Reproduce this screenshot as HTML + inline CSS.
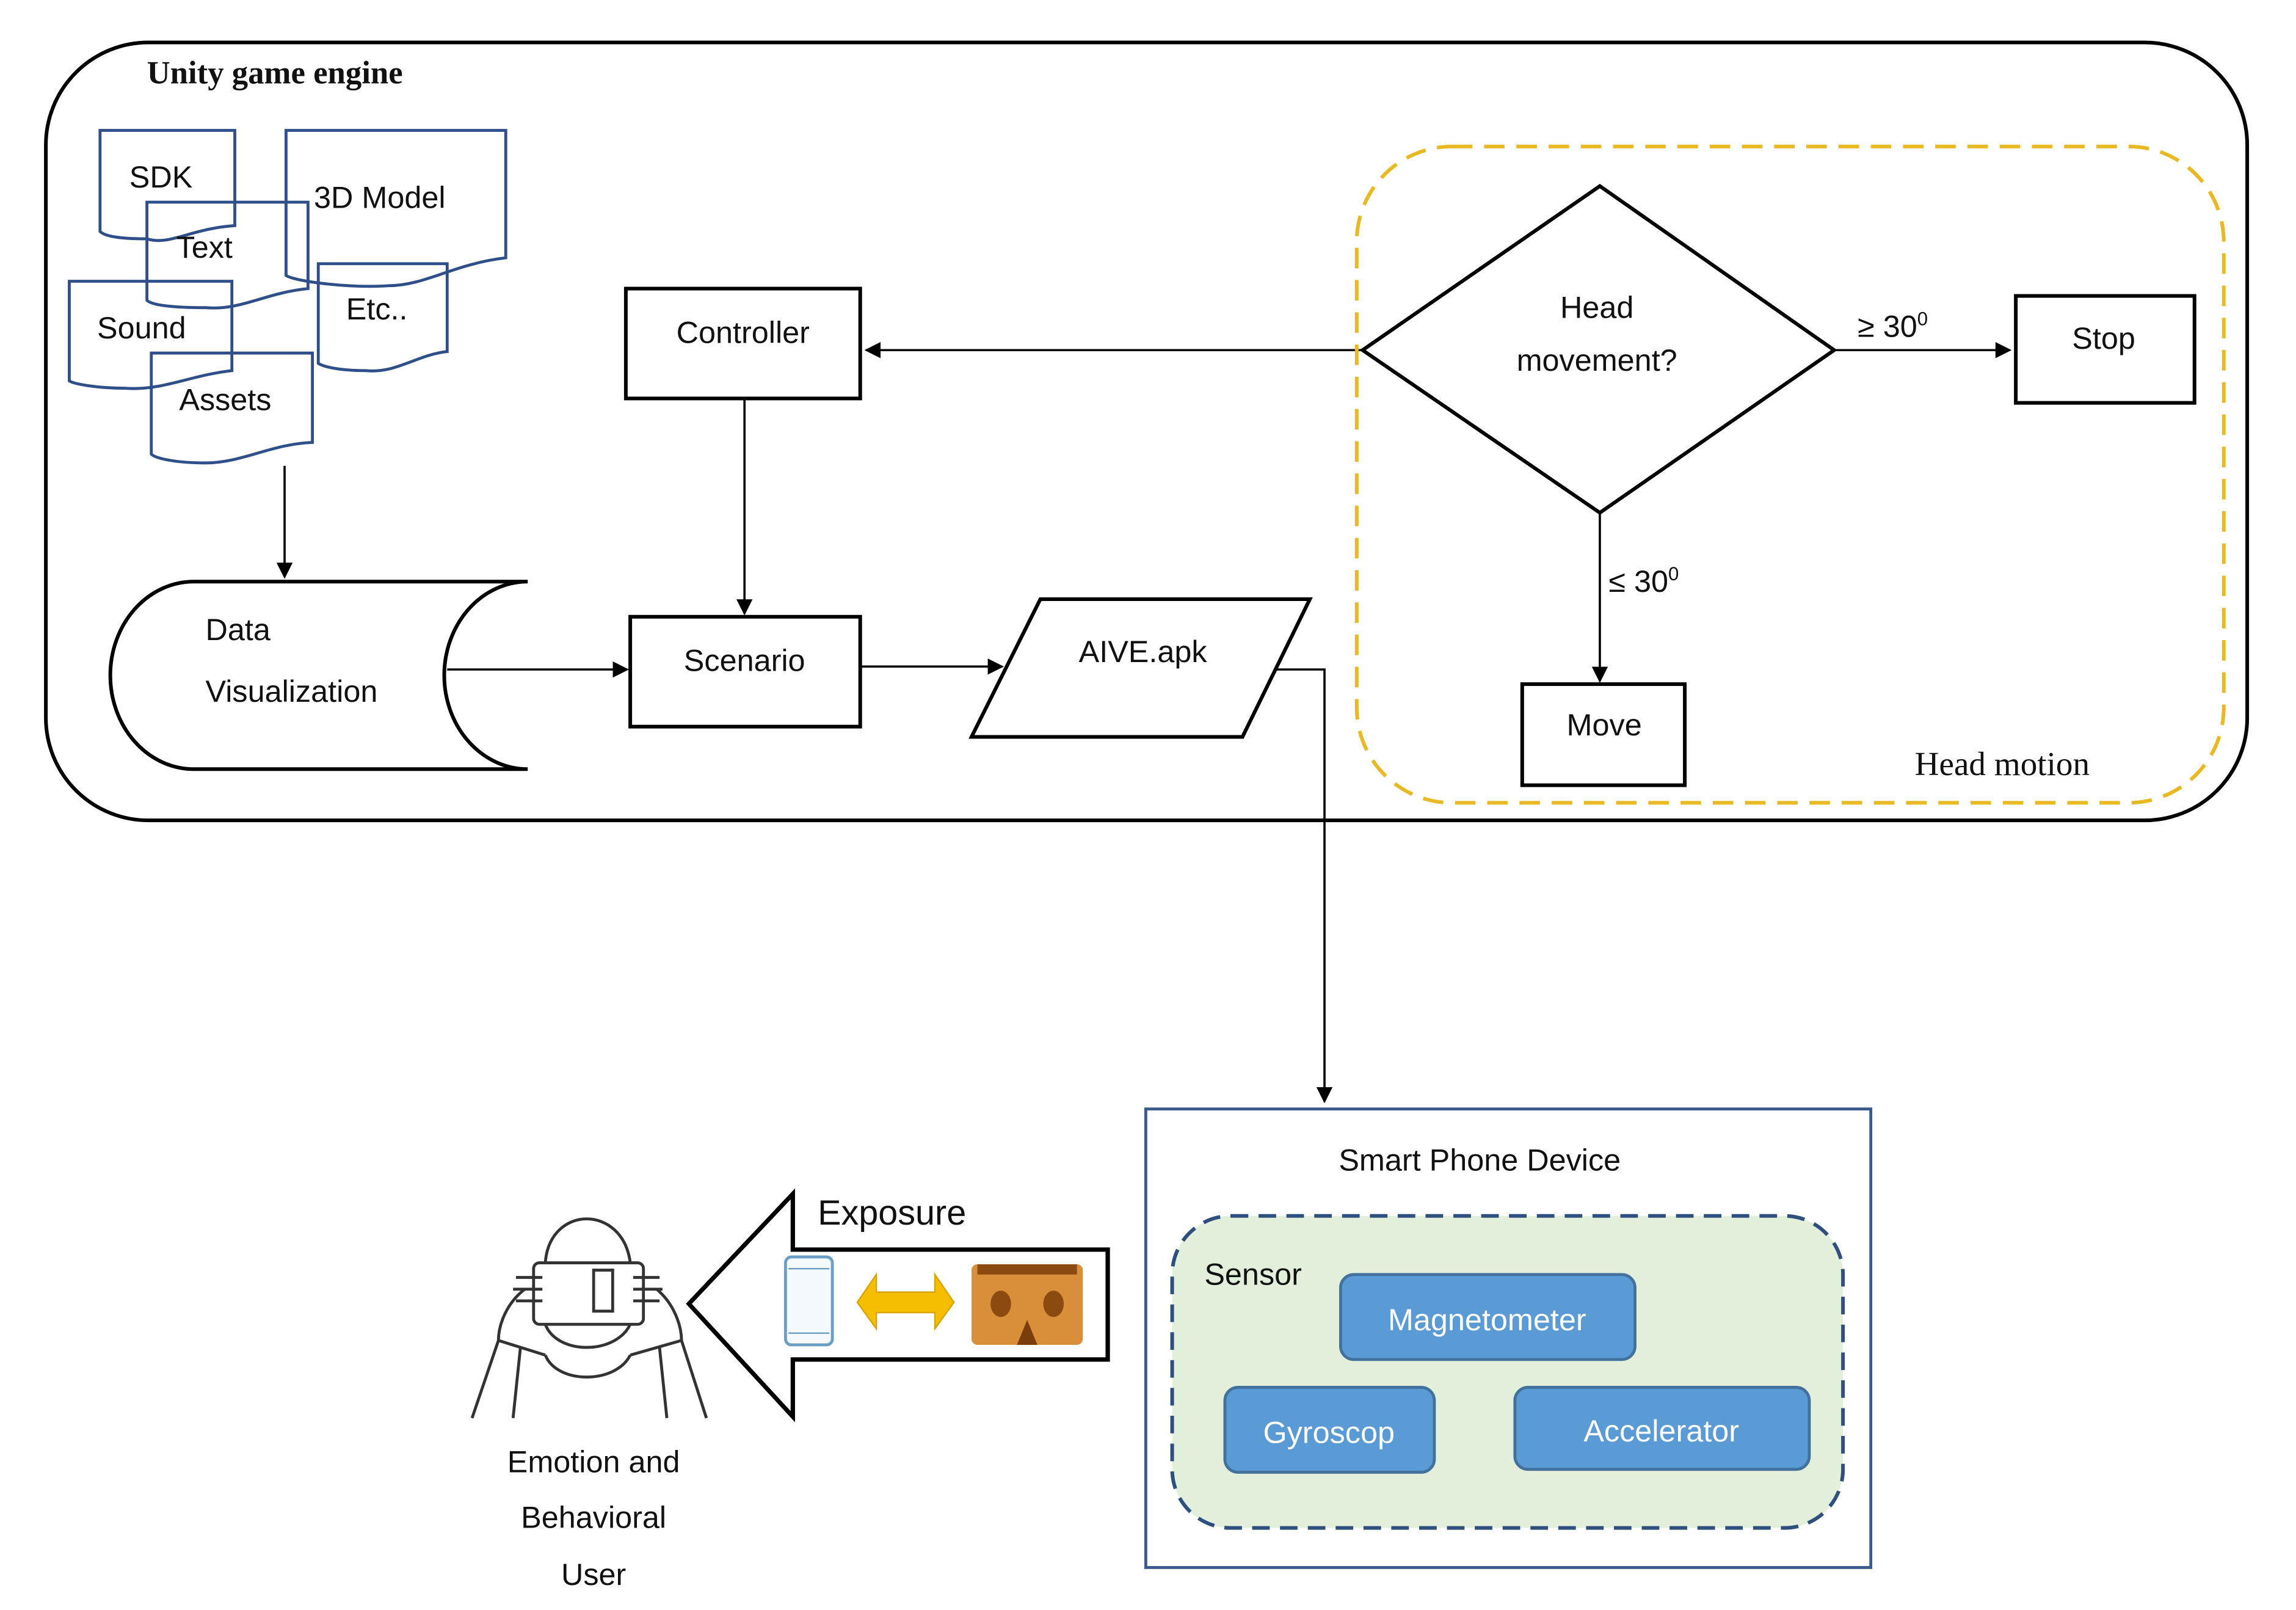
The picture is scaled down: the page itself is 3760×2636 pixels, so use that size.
<!DOCTYPE html>
<html><head><meta charset="utf-8"><style>
html,body{margin:0;padding:0;background:#fff;}
svg{display:block;}
text{font-family:"Liberation Sans",sans-serif;font-size:21px;fill:#111;}
.serif{font-family:"Liberation Serif",serif;}
</style></head><body>
<svg width="3760" height="2636" viewBox="0 0 1567 1099" xmlns="http://www.w3.org/2000/svg">
<defs>
<marker id="ar" viewBox="0 0 10 10" refX="9" refY="5" markerWidth="13" markerHeight="11" orient="auto-start-reverse" markerUnits="userSpaceOnUse">
<path d="M0,0 L10,5 L0,10 z" fill="#000"/></marker>
</defs>
<!-- outer -->
<rect x="31" y="29" width="1503" height="531" rx="70" fill="none" stroke="#000" stroke-width="2.5"/>
<text x="100" y="57" class="serif" style="font-weight:bold;font-size:22px">Unity game engine</text>

<!-- documents -->
<g fill="none" stroke="#2f4f8a" stroke-width="2">
<path d="M68,89 H160 V154 C130,156 115,168 100,163 C85,163 72,162 68,158 Z"/>
<path d="M195,89 H345 V176 C310,180 290,195 265,195 C240,197 200,192 195,188 Z"/>
<path d="M100,138 H210 V197 C180,200 165,212 140,210 C115,210 103,208 100,205 Z"/>
<path d="M217,180 H305 V240 C285,242 270,255 250,253 C230,253 220,250 217,248 Z"/>
<path d="M47,192 H158 V253 C130,256 110,267 85,265 C65,265 50,262 47,260 Z"/>
<path d="M103,241 H213 V302 C185,303 165,316 140,316 C120,316 106,313 103,310 Z"/>
</g>
<text x="88" y="128">SDK</text>
<text x="214" y="142">3D Model</text>
<text x="120" y="176">Text</text>
<text x="236" y="218">Etc..</text>
<text x="66" y="231">Sound</text>
<text x="122" y="280">Assets</text>

<g stroke="#000" stroke-width="1.5" fill="none">
<line x1="194" y1="318" x2="194" y2="394" marker-end="url(#ar)"/>
<line x1="305" y1="457" x2="428" y2="457" marker-end="url(#ar)"/>
<line x1="508" y1="273" x2="508" y2="419" marker-end="url(#ar)"/>
<line x1="588" y1="455" x2="684" y2="455" marker-end="url(#ar)"/>
<polyline points="870,457 904,457 904,752" marker-end="url(#ar)"/>
<line x1="930" y1="239" x2="591" y2="239" marker-end="url(#ar)"/>
<line x1="1252" y1="239" x2="1372" y2="239" marker-end="url(#ar)"/>
<line x1="1092" y1="350" x2="1092" y2="465" marker-end="url(#ar)"/>
</g>

<!-- data visualization -->
<path d="M360,397 H132 A57,64 0 0 0 132,525 H360 A57,64 0 0 1 360,397" fill="none" stroke="#000" stroke-width="2.5"/>
<text x="140" y="437">Data</text>
<text x="140" y="479">Visualization</text>

<rect x="427" y="197" width="160" height="75" fill="none" stroke="#000" stroke-width="2.5"/>
<text x="507" y="234" text-anchor="middle">Controller</text>
<rect x="430" y="421" width="157" height="75" fill="none" stroke="#000" stroke-width="2.5"/>
<text x="508" y="458" text-anchor="middle">Scenario</text>
<polygon points="663,503 710,409 894,409 848,503" fill="none" stroke="#000" stroke-width="2.5"/>
<text x="780" y="452" text-anchor="middle">AIVE.apk</text>

<!-- head motion -->
<rect x="926" y="100" width="592" height="448" rx="65" fill="none" stroke="#e8b923" stroke-width="2.5" stroke-dasharray="14,8"/>
<polygon points="930,239 1092,127 1252,239 1092,350" fill="none" stroke="#000" stroke-width="2.5"/>
<text x="1090" y="217" text-anchor="middle">Head</text>
<text x="1090" y="253" text-anchor="middle">movement?</text>
<text x="1268" y="230">≥ 30<tspan dy="-8" font-size="13">0</tspan></text>
<text x="1098" y="404">≤ 30<tspan dy="-8" font-size="13">0</tspan></text>
<rect x="1376" y="202" width="122" height="73" fill="none" stroke="#000" stroke-width="2.5"/>
<text x="1436" y="238" text-anchor="middle">Stop</text>
<rect x="1039" y="467" width="111" height="69" fill="none" stroke="#000" stroke-width="2.5"/>
<text x="1095" y="502" text-anchor="middle">Move</text>
<text x="1307" y="529" class="serif" style="font-size:23px">Head motion</text>

<!-- smartphone -->
<rect x="782" y="757" width="495" height="313" fill="#fff" stroke="#3a5a8c" stroke-width="2"/>
<text x="1010" y="799" text-anchor="middle">Smart Phone Device</text>
<rect x="800" y="830" width="458" height="213" rx="40" fill="#e2efda" stroke="#2f4f7f" stroke-width="2.5" stroke-dasharray="12,7"/>
<text x="822" y="877">Sensor</text>
<g fill="#5b9bd5" stroke="#41719c" stroke-width="2">
<rect x="915" y="870" width="201" height="58" rx="9"/>
<rect x="836" y="947" width="143" height="58" rx="9"/>
<rect x="1034" y="947" width="201" height="56" rx="9"/>
</g>
<text x="1015" y="908" text-anchor="middle" style="fill:#fff">Magnetometer</text>
<text x="907" y="985" text-anchor="middle" style="fill:#fff">Gyroscop</text>
<text x="1134" y="984" text-anchor="middle" style="fill:#fff">Accelerator</text>

<!-- exposure arrow -->
<polygon points="470,890 541,815 541,853 756,853 756,928 541,928 541,967" fill="#fff" stroke="#000" stroke-width="3"/>
<text x="558" y="836" style="font-size:24px">Exposure</text>
<rect x="536" y="858" width="32" height="60" rx="4" fill="#f4f9fd" stroke="#6a9ec4" stroke-width="2"/>
<line x1="538" y1="866" x2="566" y2="866" stroke="#6a9ec4"/>
<line x1="538" y1="910" x2="566" y2="910" stroke="#6a9ec4"/>
<polygon points="585,889 598,870 598,882 638,882 638,870 651,889 638,907 638,896 598,896 598,907" fill="#f5be00" stroke="#d9a400"/>
<rect x="663" y="863" width="76" height="55" rx="4" fill="#d98e3a"/>
<rect x="667" y="863" width="68" height="7" fill="#8b4a10"/>
<ellipse cx="683" cy="890" rx="7" ry="9" fill="#8b4a10"/>
<ellipse cx="719" cy="890" rx="7" ry="9" fill="#8b4a10"/>
<polygon points="694,918 701,901 708,918" fill="#7a3d0c"/>

<!-- person -->
<g fill="none" stroke="#333" stroke-width="2">
<path d="M372,862 C375,822 425,822 430,862"/>
<rect x="364" y="862" width="75" height="42" rx="4"/>
<rect x="405" y="867" width="13" height="28"/>
<path d="M372,904 C380,925 420,925 430,904"/>
<path d="M358,880 C345,890 340,905 340,915 L322,968"/>
<path d="M448,880 C460,890 465,905 465,915 L482,968"/>
<path d="M355,920 L350,968"/>
<path d="M450,920 L455,968"/>
<path d="M352,872 h18 M350,880 h20 M352,888 h18"/>
<path d="M432,872 h18 M432,880 h20 M432,888 h18"/>
<path d="M372,925 C380,945 420,945 430,925"/>
<path d="M340,915 L372,925 M465,915 L430,925"/>
</g>
<text x="405" y="1005" text-anchor="middle">Emotion and</text>
<text x="405" y="1043" text-anchor="middle">Behavioral</text>
<text x="405" y="1082" text-anchor="middle">User</text>
</svg>
</body></html>
